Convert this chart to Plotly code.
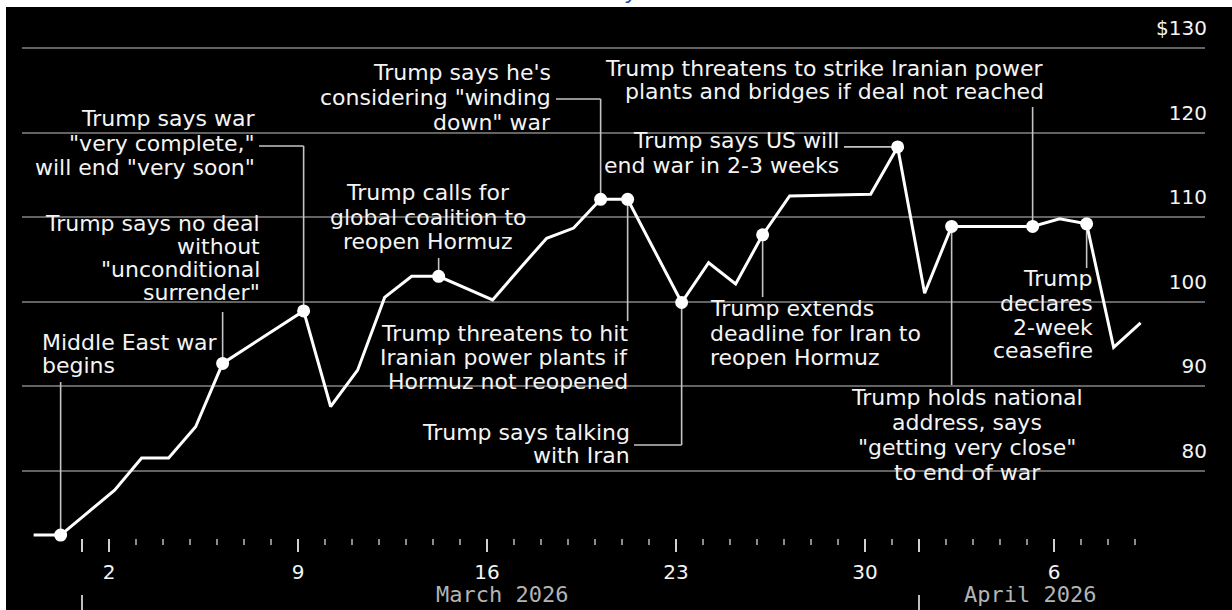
import pandas as pd
import plotly.graph_objects as go

# Daily closing prices, USD per barrel
DATES = ["2026-02-27", "2026-02-28", "2026-03-02", "2026-03-03", "2026-03-04", "2026-03-05",
         "2026-03-06", "2026-03-09", "2026-03-10", "2026-03-11", "2026-03-12", "2026-03-13",
         "2026-03-14", "2026-03-16", "2026-03-17", "2026-03-18", "2026-03-19", "2026-03-20",
         "2026-03-21", "2026-03-23", "2026-03-24", "2026-03-25", "2026-03-26", "2026-03-27",
         "2026-03-30", "2026-03-31", "2026-04-01", "2026-04-02", "2026-04-05", "2026-04-06",
         "2026-04-07", "2026-04-08", "2026-04-09"]
PRICES = [72.4, 72.4, 77.7, 81.5, 81.5, 85.2,
          92.7, 98.9, 87.6, 91.9, 100.5, 103.0,
          103.0, 100.2, 103.9, 107.5, 108.7, 112.1,
          112.1, 99.9, 104.6, 102.1, 107.9, 112.5,
          112.7, 118.3, 101.0, 108.9, 108.9, 109.8,
          109.2, 94.6, 97.5]

# Dated events marked on the line
EVENT_DATES = ["2026-02-28", "2026-03-06", "2026-03-09", "2026-03-14", "2026-03-20",
               "2026-03-21", "2026-03-23", "2026-03-26", "2026-03-31", "2026-04-02",
               "2026-04-05", "2026-04-07"]
EVENT_TEXT = [
    ["Middle East war", "begins"],
    ["Trump says no deal", "without", "\"unconditional", "surrender\""],
    ["Trump says war", "\"very complete,\"", "will end \"very soon\""],
    ["Trump calls for", "global coalition to", "reopen Hormuz"],
    ["Trump says he's", "considering \"winding", "down\" war"],
    ["Trump threatens to hit", "Iranian power plants if", "Hormuz not reopened"],
    ["Trump says talking", "with Iran"],
    ["Trump extends", "deadline for Iran to", "reopen Hormuz"],
    ["Trump says US will", "end war in 2-3 weeks"],
    ["Trump holds national", "address, says", "\"getting very close\"", "to end of war"],
    ["Trump threatens to strike Iranian power", "plants and bridges if deal not reached"],
    ["Trump", "declares", "2-week", "ceasefire"],
]

Y_TICKS = [80, 90, 100, 110, 120, 130]
Y_TICK_TEXT = ["80", "90", "100", "110", "120", "$130"]
X_TICK_DATES = ["2026-03-01", "2026-03-02", "2026-03-09", "2026-03-16", "2026-03-23",
                "2026-03-30", "2026-04-01", "2026-04-06"]
X_TICK_TEXT = ["", "2", "9", "16", "23", "30", "", "6"]
MONTH_STARTS = ["2026-03-01", "2026-04-01"]
MONTH_LABELS = ["March 2026", "April 2026"]

# ---- page geometry (pixels) ----
W, H = 1232, 610
PLOT_L, PLOT_R, PLOT_T, PLOT_B = 22, 1205, 10, 538
X_START = pd.Timestamp("2026-02-26 18:40")
X_END = pd.Timestamp("2026-04-11 14:13")
Y_LO, Y_HI = 72.05, 134.49
OBS_HOUR = pd.Timedelta(hours=5)

TEXT_FONT = dict(family="DejaVu Sans", size=22, color="#f4f4f4")
CONNECTOR = dict(color="#c4c4c4", width=1.6)


def px_x(px):
    return (px - PLOT_L) / (PLOT_R - PLOT_L)


def px_y(py):
    return (PLOT_B - py) / (PLOT_B - PLOT_T)


def date_at(px):
    return X_START + (X_END - X_START) * px_x(px)


def value_at(py):
    return Y_LO + (Y_HI - Y_LO) * px_y(py)


def stamp(d):
    return str(pd.Timestamp(d) + OBS_HOUR)


# callout placement: text anchor, anchor x, line centres y, leader elbow y, leader end x
CALLOUTS = [
    ("left", 40, [342, 365], 382, None),
    ("right", 262, [223, 246, 269, 292], 312, None),
    ("right", 257, [118, 143, 168], 146, 259),
    ("center", 428, [192, 217, 241], 258, None),
    ("right", 553, [73, 98, 122], 99, 556),
    ("right", 630, [333, 357, 381], 321, None),
    ("right", 632, [432, 455], 445, 634),
    ("left", 708, [308, 333, 357], 297, None),
    ("right", 841, [141, 166], None, 844),
    ("center", 967, [397, 422, 447, 472], 385, None),
    ("right", 1046, [69, 92], 107, None),
    ("right", 1095, [278, 303, 327, 351], 268, None),
]

x_vals = [stamp(d) for d in DATES]
ev_x = [stamp(d) for d in EVENT_DATES]
ev_y = [PRICES[DATES.index(d)] for d in EVENT_DATES]

fig = go.Figure()
fig.add_trace(go.Scatter(x=x_vals, y=PRICES, mode="lines",
                         line=dict(color="white", width=3), hoverinfo="skip",
                         cliponaxis=False))
fig.add_trace(go.Scatter(x=ev_x, y=ev_y, mode="markers",
                         marker=dict(color="white", size=13, line=dict(width=0)),
                         cliponaxis=False, hoverinfo="skip"))

shapes = [dict(type="rect", xref="paper", yref="paper", layer="below",
               x0=px_x(6), x1=px_x(1245), y0=px_y(625), y1=px_y(7),
               fillcolor="black", line=dict(width=0))]
annotations = []

for (anchor, ax, ys, elbow_y, end_x), lines, ex, ey in zip(CALLOUTS, EVENT_TEXT, ev_x, ev_y):
    for line, ly in zip(lines, ys):
        annotations.append(dict(text=line, xref="paper", yref="paper",
                                x=px_x(ax), y=px_y(ly), xanchor=anchor, yanchor="middle",
                                showarrow=False, font=TEXT_FONT, align=anchor))
    pts = [(ex, ey)]
    if elbow_y is not None:
        pts.append((ex, value_at(elbow_y)))
    if end_x is not None:
        pts.append((str(date_at(end_x)), pts[-1][1]))
    for (x0, y0), (x1, y1) in zip(pts[:-1], pts[1:]):
        shapes.append(dict(type="line", xref="x", yref="y", layer="between",
                           x0=x0, y0=y0, x1=x1, y1=y1, line=CONNECTOR))

# month separators below the day labels
for m in MONTH_STARTS:
    shapes.append(dict(type="line", xref="x", yref="paper", x0=m, x1=m,
                       y0=px_y(612), y1=px_y(595), line=dict(color="#bdbdbd", width=2)))
for label, cx in zip(MONTH_LABELS, [502, 1030]):
    annotations.append(dict(text=label, xref="paper", yref="paper", x=px_x(cx), y=px_y(594),
                            xanchor="center", yanchor="middle", showarrow=False,
                            font=dict(family="DejaVu Sans Mono", size=22, color="#b4b4b4")))

# heading fragment at the top edge
annotations.append(dict(text="y", xref="paper", yref="paper", x=px_x(632), y=px_y(-8),
                        xanchor="center", yanchor="middle", showarrow=False,
                        font=dict(family="DejaVu Sans", size=22, color="#1f4f9e", style="italic")))

day_ticks = [str(d.date()) for d in pd.date_range("2026-03-01", "2026-04-09")
             if str(d.date()) not in X_TICK_DATES]

fig.update_layout(
    width=W, height=H, autosize=False,
    margin=dict(l=PLOT_L, r=W - PLOT_R, t=PLOT_T, b=H - PLOT_B, pad=0),
    paper_bgcolor="white", plot_bgcolor="black",
    showlegend=False,
    shapes=shapes, annotations=annotations,
    xaxis=dict(type="date", range=[str(X_START), str(X_END)],
               tickmode="array", tickvals=X_TICK_DATES, ticktext=X_TICK_TEXT,
               ticks="outside", ticklen=13, tickwidth=2, tickcolor="#d0d0d0",
               ticklabelstandoff=3,
               tickfont=dict(family="DejaVu Sans", size=20, color="#f4f4f4"),
               showgrid=False, zeroline=False, showline=False,
               minor=dict(tickmode="array", tickvals=day_ticks, ticks="outside",
                          ticklen=6, tickwidth=2, tickcolor="#8c8c8c", showgrid=False)),
    yaxis=dict(range=[Y_LO, Y_HI], side="right", tickmode="array",
               tickvals=Y_TICKS, ticktext=Y_TICK_TEXT, ticks="",
               ticklabelposition="inside", ticklabelshift=-20, ticklabelstandoff=-5,
               tickfont=dict(family="DejaVu Sans", size=20, color="#f4f4f4"),
               showgrid=True, gridcolor="#636363", gridwidth=1.5,
               zeroline=False, showline=False),
)

fig.write_html("out.html")
